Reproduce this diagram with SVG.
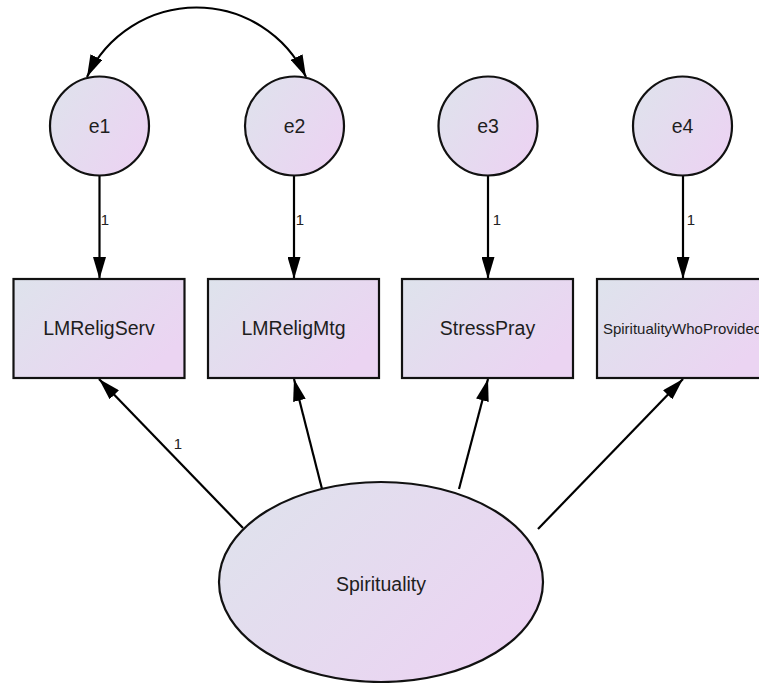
<svg xmlns="http://www.w3.org/2000/svg" width="759" height="683" viewBox="0 0 759 683">
<defs>
<linearGradient id="g" x1="0" y1="0" x2="1" y2="0.6">
<stop offset="0" stop-color="#dee3ec"/>
<stop offset="1" stop-color="#ebd4f2"/>
</linearGradient>
<marker id="ah" viewBox="0 0 22 13" refX="22" refY="6.5" markerWidth="22" markerHeight="13" markerUnits="userSpaceOnUse" orient="auto-start-reverse">
<path d="M0 0 L22 6.5 L0 13 Z" fill="#000"/>
</marker>
<style>
.n{fill:url(#g);stroke:#111;stroke-width:2.2}
.t{font-family:"Liberation Sans",Arial,sans-serif;font-size:19.5px;fill:#1e1e1e;text-anchor:middle;dominant-baseline:central}
.s{font-family:"Liberation Sans",Arial,sans-serif;font-size:15px;fill:#222;text-anchor:middle;dominant-baseline:central}
.c{stroke:#000;stroke-width:2.2;fill:none;marker-end:url(#ah)}
</style>
</defs>
<g id="connectors">
<path class="c" d="M87 77 A121 121 0 0 1 306 77" style="marker-start:url(#ah)"/>
<line class="c" x1="99.5" y1="176" x2="99.5" y2="279"/>
<line class="c" x1="294" y1="176" x2="294" y2="279"/>
<line class="c" x1="488" y1="176" x2="488" y2="279"/>
<line class="c" x1="683" y1="176" x2="683" y2="279"/>
<line class="c" x1="243" y1="528" x2="99" y2="379"/>
<line class="c" x1="322" y1="489" x2="294" y2="379"/>
<line class="c" x1="459" y1="489" x2="488" y2="379"/>
<line class="c" x1="538" y1="529" x2="683" y2="379"/>
<text class="s" x="105" y="219">1</text>
<text class="s" x="300" y="219">1</text>
<text class="s" x="497" y="219">1</text>
<text class="s" x="691" y="219">1</text>
<text class="s" x="178" y="443">1</text>
</g>
<g id="e1"><circle class="n" cx="99.5" cy="126" r="49.5"/><text class="t" x="99.5" y="126">e1</text></g>
<g id="e2"><circle class="n" cx="294.5" cy="126" r="49.5"/><text class="t" x="294.5" y="126">e2</text></g>
<g id="e3"><circle class="n" cx="488" cy="126" r="49.5"/><text class="t" x="488" y="126">e3</text></g>
<g id="e4"><circle class="n" cx="682.5" cy="126" r="49.5"/><text class="t" x="682.5" y="126">e4</text></g>
<g id="LMReligServ"><rect class="n" x="13.5" y="279" width="171" height="99"/><text class="t" x="99" y="328">LMReligServ</text></g>
<g id="LMReligMtg"><rect class="n" x="208" y="279" width="171" height="99"/><text class="t" x="293.5" y="328">LMReligMtg</text></g>
<g id="StressPray"><rect class="n" x="402" y="279" width="171" height="99"/><text class="t" x="487.5" y="328">StressPray</text></g>
<g id="SpiritualityWhoProvided"><rect class="n" x="597" y="279" width="171" height="99"/><text class="t" x="682.5" y="328" style="font-size:15px">SpiritualityWhoProvided</text></g>
<g id="Spirituality"><ellipse class="n" cx="381" cy="582" rx="162" ry="100"/><text class="t" x="381" y="584">Spirituality</text></g>
</svg>
